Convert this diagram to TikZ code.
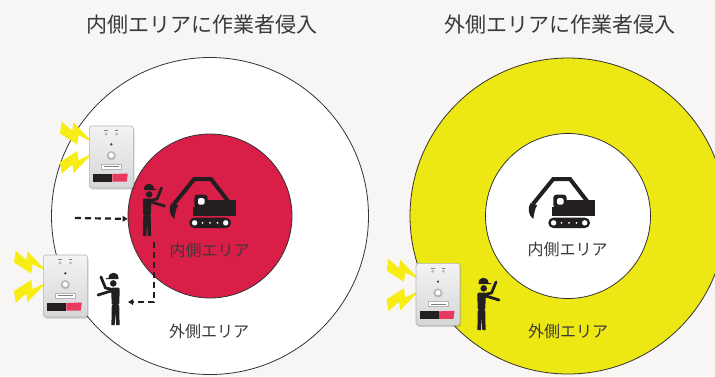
\documentclass[tikz,border=0pt]{standalone}
\usepackage{fontspec}
\newfontfamily\jp{Noto Sans CJK JP}
\usetikzlibrary{arrows.meta}

\definecolor{bg}{HTML}{F7F6F4}
\definecolor{zonered}{HTML}{D91E48}
\definecolor{zoneyellow}{HTML}{EDE713}
\definecolor{ink}{HTML}{231F20}
\definecolor{rim}{HTML}{333333}
\definecolor{textgray}{HTML}{3A3A3A}
\definecolor{boltyellow}{HTML}{F7EC14}
\definecolor{devlight}{HTML}{F3F3F4}
\definecolor{devdark}{HTML}{D5D6D8}
\definecolor{devedge}{HTML}{B3B5B8}
\definecolor{ledgray}{HTML}{B7BABD}
\definecolor{brandred}{HTML}{E83A5E}

\tikzset{
  zone/.style={circle, inner sep=0pt, draw=rim, line width=0.8pt},
  title/.style={font=\jp\fontsize{21}{24}\selectfont, text=textgray, inner sep=0pt},
  zonelabel/.style={font=\jp\fontsize{16}{19}\selectfont, text=textgray, inner sep=0pt},
  dasharrow/.style={ink, line width=2.2pt, dash pattern=on 6pt off 4pt,
    -{Triangle[length=5pt,width=5.5pt]}},
  % excavator pictogram, origin at the top-left of its frame
  excavator/.pic={
    \draw[ink, line width=4pt, line join=miter] (13,32) -- (33.3,7) -- (50,7) -- (67,29);
    \fill[ink] (10.5,31) .. controls (7.5,36) and (8,43) .. (13.3,47)
      .. controls (14.2,42) and (14.5,37) .. (17.2,33.2) -- cycle;
    \fill[ink, rounded corners=3pt] (33.3,36) -- (33.3,22.7) -- (46.7,22.7) -- (46.7,36) -- cycle;
    \fill[white, rounded corners=1.5pt] (37,26) rectangle (43.5,32.5);
    \fill[ink] (46,27.5) rectangle (75,36);
    \fill[ink] (31.7,35) rectangle (75,44.3);
    \fill[ink, rounded corners=5pt] (28.3,45.7) rectangle (70,56);
    \fill[white] (33.6,50.85) circle (2.7) (64.7,50.85) circle (2.7);
    \fill[white] (41.5,50.85) circle (1) (49,50.85) circle (1) (56.5,50.85) circle (1);
  },
  % worker with hard hat, origin between the feet
  worker/.pic={
    \fill[ink] (-2.5,-47) .. controls (-2.5,-54) and (7.5,-54) .. (7.5,-47)
      -- (10,-47) -- (10,-45.8) -- (-2.5,-45.8) -- cycle;
    \fill[ink] (2.7,-41.6) circle (3.3);
    \fill[ink, rounded corners=1.5pt] (-3.8,-37.5) -- (5,-37.5) -- (4.2,-20) -- (-3.2,-20) -- cycle;
    \fill[ink] (-3.2,-20.5) -- (4.2,-20.5) -- (4.6,0) -- (1.3,0) -- (0.6,-13)
      -- (-0.2,0) -- (-3.6,0) -- cycle;
    \draw[ink, line width=2.8pt, line cap=round, line join=round]
      (3.5,-35.5) -- (10.5,-37) -- (15,-48);
    \draw[ink, line width=2.8pt, line cap=round] (3.5,-34.5) -- (18,-30);
  },
  % lightning bolt, tip at the origin
  bolt/.pic={
    \fill[boltyellow, scale=1.7] (2.5,-20) -- (-2.5,-9) -- (3,-9) -- (0,0)
      -- (10,-13) -- (5,-13) -- (9.5,-20) -- cycle;
  },
  % area sensor unit, origin at its top-left corner
  device/.pic={
    \fill[black, opacity=0.16, rounded corners=2.5pt] (1,1.5) rectangle (45.2,63.6);
    \shade[top color=devlight, bottom color=devdark, rounded corners=2.5pt] (0,0) rectangle (44,62);
    \draw[devedge, line width=0.6pt, rounded corners=2.5pt] (0,0) rectangle (44,62);
    \draw[gray, line width=0.5pt] (14.7,4.6) -- (18.7,4.6) (25.8,4.6) -- (28.8,4.6);
    \fill[ledgray] (16.7,8) circle (1.6) (27.3,8) circle (1.6);
    \fill[ink!85] (22,18.3) circle (1.3);
    \fill[ledgray] (22,29.7) circle (4.3);
    \draw[devedge, line width=0.4pt] (22,29.7) circle (4.3);
    \fill[white] (22,29.3) circle (2.5);
    \draw[devedge, fill=white, line width=0.4pt] (12.3,38.3) rectangle (32.3,43);
    \draw[gray, line width=0.4pt] (15,40.65) -- (29.6,40.65);
    \fill[ink] (4,48) -- (23,48) -- (23,55.5) -- (4,55.5) -- cycle;
    \fill[brandred] (23,48) -- (38.5,47.5) -- (37.5,55.5) -- (23,55.5) -- cycle;
  },
}

\begin{document}
\begin{tikzpicture}[x=1pt, y=-1pt]
\useasboundingbox (0,0) rectangle (715,376);
\clip (0,0) rectangle (715,376);
\fill[bg] (0,0) rectangle (715,376);

% titles
\node[title] (titleL) at (201.5,25) {内側エリアに作業者侵入};
\node[title] (titleR) at (560,25) {外側エリアに作業者侵入};

% zones
\node[zone, fill=white, minimum size=317pt] (outerL) at (210,216) {};
\node[zone, fill=zonered, minimum size=164pt] (innerL) at (210,216) {};
\node[zone, fill=zoneyellow, minimum size=316pt] (outerR) at (568,216) {};
\node[zone, fill=white, minimum size=165pt] (innerR) at (568,216) {};

% zone names
\node[zonelabel] (innerLabelL) at (209.5,250) {内側エリア};
\node[zonelabel] (outerLabelL) at (209,331) {外側エリア};
\node[zonelabel] (innerLabelR) at (567.5,249.5) {内側エリア};
\node[zonelabel] (outerLabelR) at (568,331) {外側エリア};

% machines
\pic at (161,172) {excavator};
\pic at (520,172) {excavator};

% workers
\pic at (146.5,236) {worker};
\pic[xscale=-1] at (116,325) {worker};
\pic at (481,330) {worker};

% movement of the worker
\coordinate (pushStart) at (75,218);
\coordinate (dropStart) at (154,242);
\coordinate (retreatEnd) at (128,302);
\draw[dasharrow] (pushStart) -- (innerL.182);
\draw[dasharrow] (dropStart) |- (retreatEnd);

% warning signals
\pic[rotate=81.7] at (93,142.5) {bolt};
\pic[rotate=-81.7, yscale=-1] at (93,153) {bolt};
\pic[rotate=81.7] at (47,271.5) {bolt};
\pic[rotate=-81.7, yscale=-1] at (47,282) {bolt};
\pic[rotate=81.7] at (419.7,279.8) {bolt};
\pic[rotate=-81.7, yscale=-1] at (419.7,290.3) {bolt};

% sensor units
\pic at (89.3,126) {device};
\pic at (43.3,255) {device};
\pic at (416,263.3) {device};
\end{tikzpicture}
\end{document}
